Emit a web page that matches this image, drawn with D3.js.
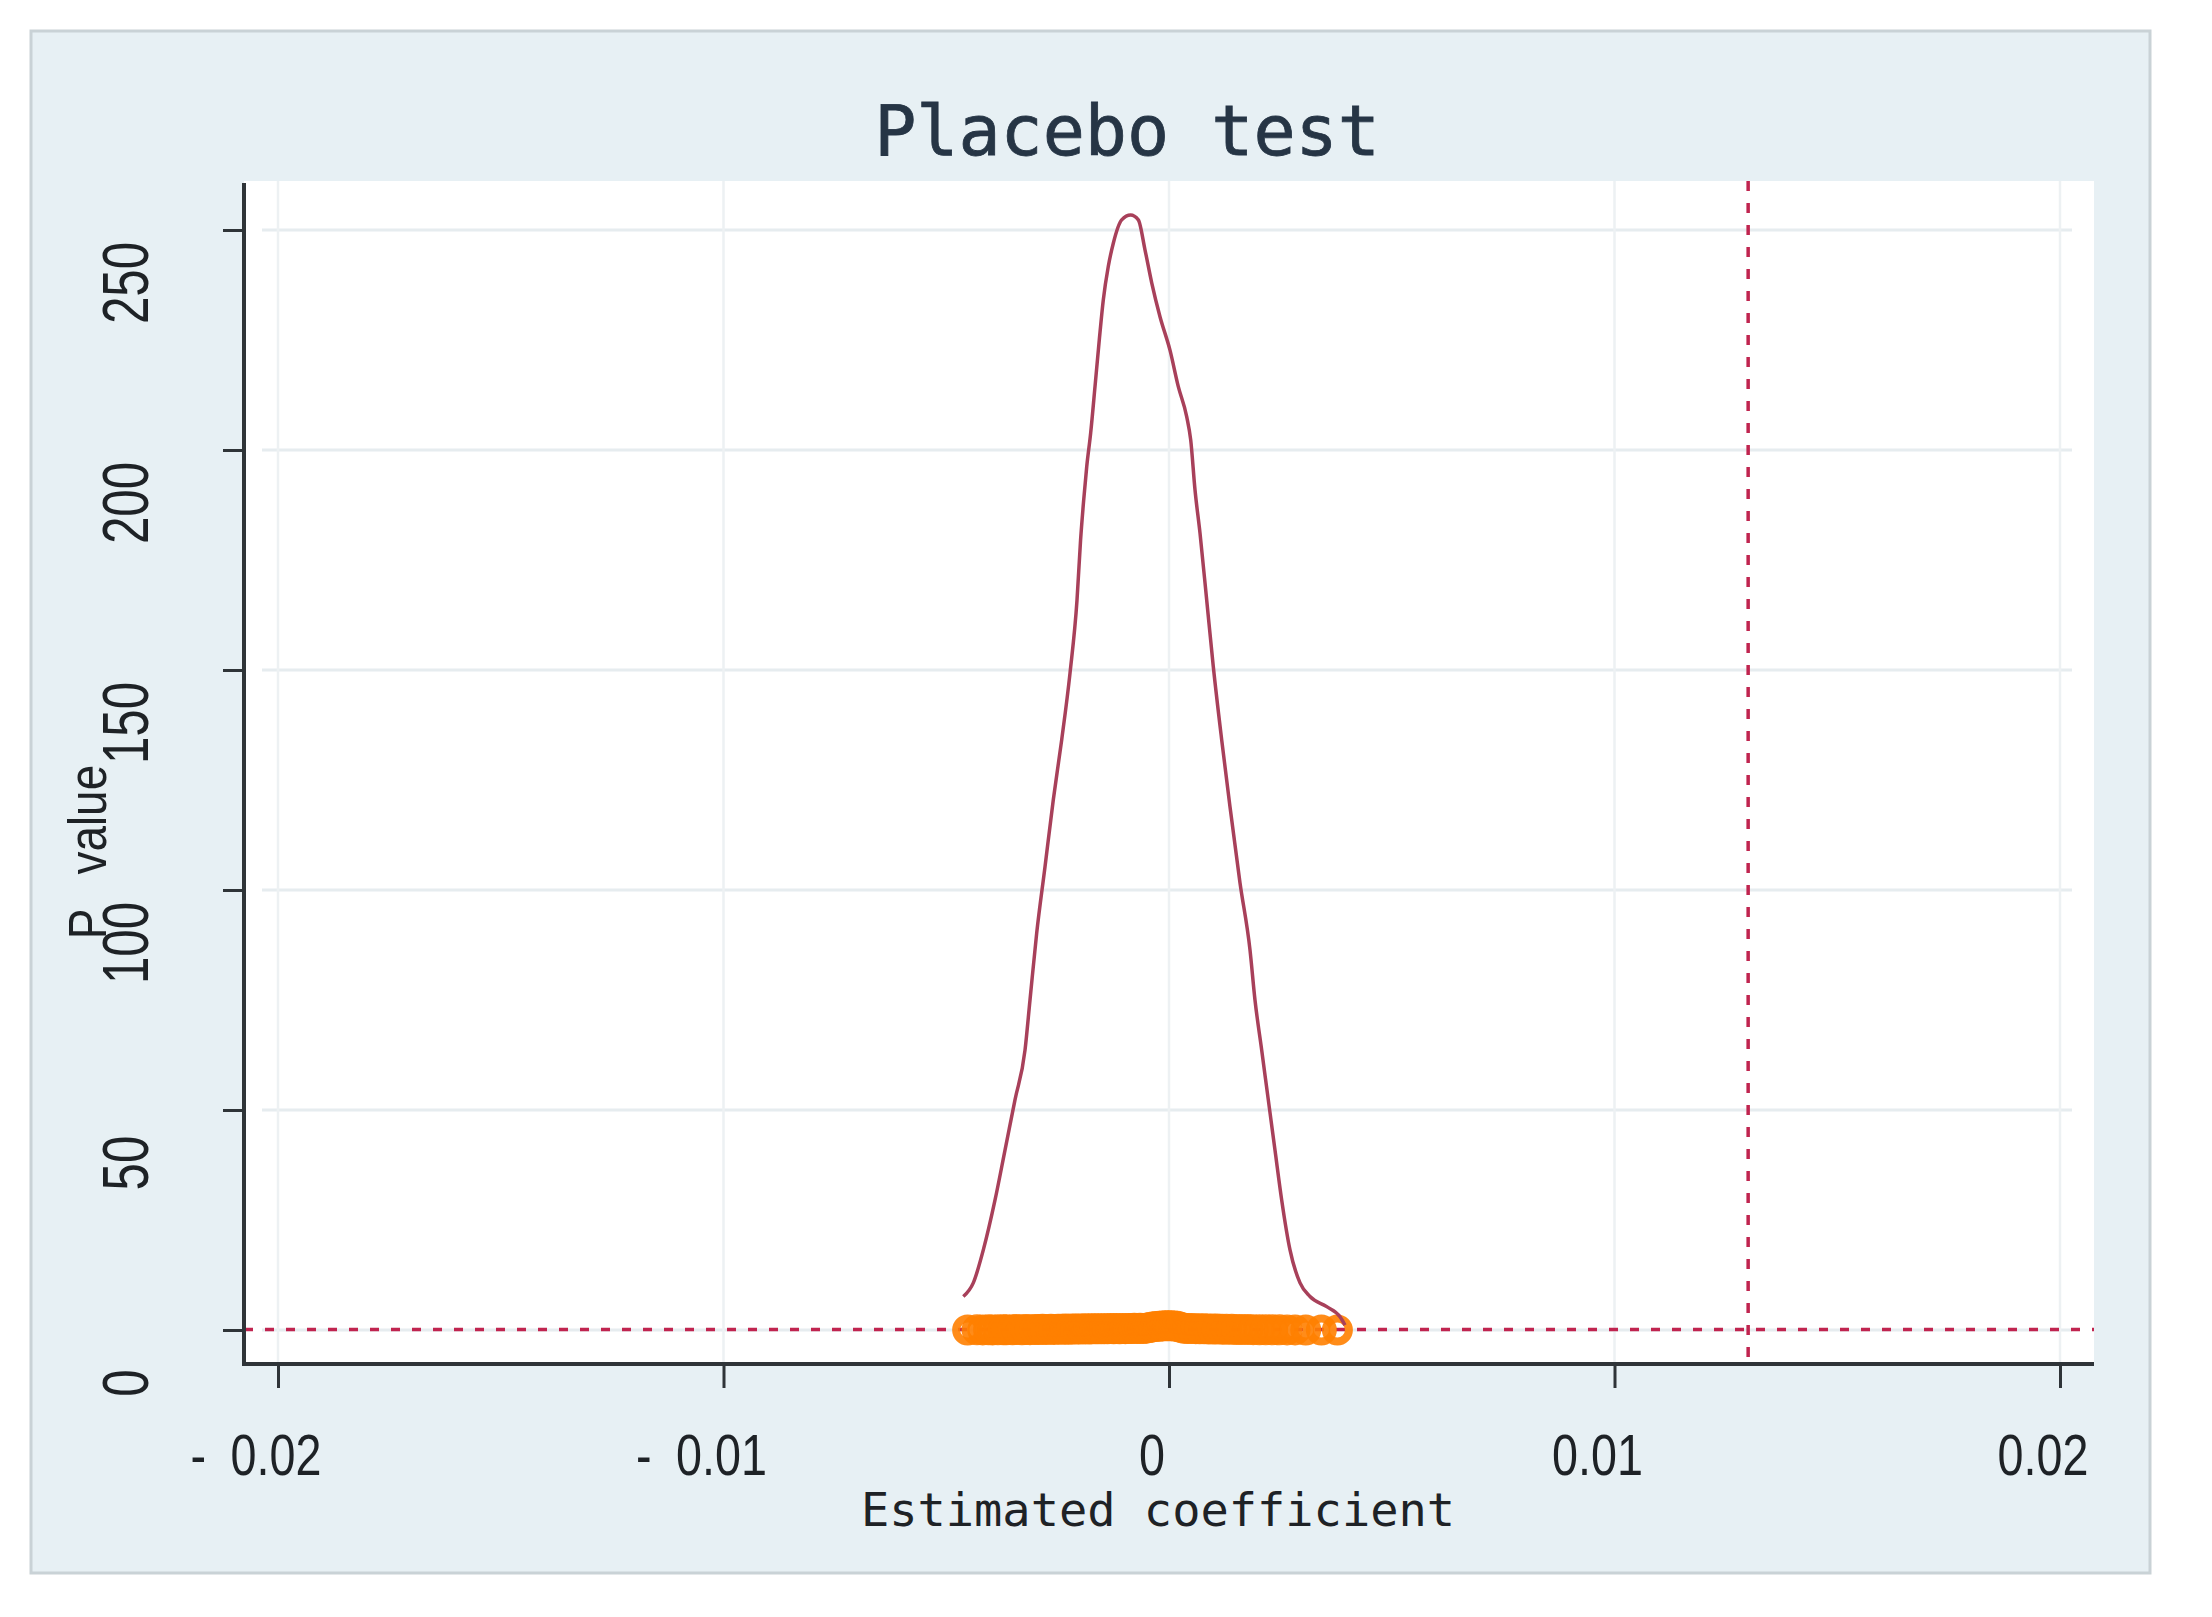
<!DOCTYPE html>
<html>
<head>
<meta charset="utf-8">
<script src="https://cdn.jsdelivr.net/npm/d3@7/dist/d3.min.js"></script>
<style>
  html, body { margin: 0; padding: 0; background: #ffffff; }
  svg { display: block; }
</style>
</head>
<body>
<script>
// ---------------- data ----------------
const chartTitle = "Placebo test";
const xAxisTitle = "Estimated coefficient";
const yAxisTitle = "P value";

const xTickValues = [-0.02, -0.01, 0, 0.01, 0.02];
const xTickLabels = ["- 0.02", "- 0.01", "0", "0.01", "0.02"];
const yTickValues = [0, 50, 100, 150, 200, 250];
const yTickLabels = ["0", "50", "100", "150", "200", "250"];

// kernel density of placebo coefficients (traced)
const densityX = [-0.004617,-0.004393,-0.004168,-0.003906,-0.003681,-0.003457,-0.003232,-0.00312,-0.00297,-0.002783,
  -0.002597,-0.002409,-0.002222,-0.002065,-0.001985,-0.001915,-0.001847,-0.001758,-0.001661,-0.001565,
  -0.001475,-0.001363,-0.00125,-0.001062,-0.00086,-0.000689,-0.000539,-0.000388,-0.000202,0.000022,
  0.000209,0.000397,0.000487,0.000584,0.000696,0.000846,0.000994,0.001183,0.001369,0.001594,
  0.001818,0.00193,0.002081,0.002229,0.002379,0.00253,0.002716,0.002941,0.003165,0.00354,
  0.003838,0.00395];
const densityY = [7.6,10.7,18.2,29.5,40.9,52.3,63.6,75,90.2,105.3,
  120.5,134.1,149.3,165.9,179.5,188.6,196.2,203.9,214.4,225,
  234.1,241.7,247,252.3,253.4,252.3,245.5,238,230.3,222.7,
  214.4,207.6,202.3,190.9,181.1,165.9,150.8,134.1,118.9,101.6,
  86.4,75,63.6,52.3,40.9,29.5,18.2,10.7,7.6,5.3,
  3.0,1.1];

// placebo estimates (coefficient) and their p values
const placeboCoefs = [-0.00452,-0.00431,-0.00418,-0.00405,-0.00396,-0.00384,-0.00372,-0.00365,-0.00351,-0.00342,
  -0.00330,-0.00321,-0.00312,-0.00301,-0.00293,-0.00284,-0.00276,-0.00265,-0.00258,-0.00249,
  -0.00241,-0.00233,-0.00226,-0.00218,-0.00210,-0.00203,-0.00195,-0.00188,-0.00180,-0.00174,
  -0.00166,-0.00159,-0.00151,-0.00145,-0.00138,-0.00131,-0.00124,-0.00118,-0.00111,-0.00104,
  -0.00098,-0.00091,-0.00085,-0.00078,-0.00071,-0.00065,-0.00058,-0.00051,-0.00044,-0.00037,
  -0.00030,-0.00022,-0.00015,-0.00008,-0.00002,0.00005,0.00012,0.00019,0.00026,0.00034,
  0.00042,0.00051,0.00060,0.00069,0.00079,0.00088,0.00098,0.00108,0.00119,0.00129,
  0.00141,0.00152,0.00164,0.00177,0.00189,0.00203,0.00217,0.00232,0.00248,0.00265,
  0.00283,0.00307,0.00342,0.00378];
const placeboPvals = [0.01,0.03,0.02,0.05,0.02,0.04,0.07,0.03,0.06,0.09,
  0.05,0.11,0.08,0.13,0.10,0.15,0.12,0.17,0.14,0.19,
  0.16,0.21,0.18,0.23,0.20,0.25,0.22,0.27,0.24,0.29,
  0.26,0.30,0.28,0.31,0.27,0.32,0.29,0.33,0.30,0.34,
  0.31,0.35,0.33,0.37,0.34,0.39,0.36,0.42,0.58,0.71,
  0.80,0.87,0.93,0.96,0.98,0.94,0.89,0.83,0.62,0.41,
  0.36,0.33,0.31,0.29,0.27,0.25,0.23,0.21,0.19,0.17,
  0.15,0.13,0.11,0.09,0.08,0.06,0.05,0.04,0.03,0.02,
  0.02,0.01,0.01,0.00];

const trueCoef = [0.013];   // vertical reference line
const pThreshold = [0.1];   // horizontal reference line

// ---------------- layout ----------------
const W = 2212, H = 1617;
const frame = { x0: 31, y0: 31, x1: 2150, y1: 1573 };
const plot = { left: 244, right: 2094, top: 181, bottom: 1364 };

const svg = d3.select("body").append("svg")
  .attr("width", W).attr("height", H);

svg.append("rect").attr("x", 0).attr("y", 0).attr("width", W).attr("height", H).attr("fill", "#ffffff");
svg.append("rect")
  .attr("x", frame.x0).attr("y", frame.y0)
  .attr("width", frame.x1 - frame.x0).attr("height", frame.y1 - frame.y0)
  .attr("fill", "#e7f0f4").attr("stroke", "#c9d2d6").attr("stroke-width", 3);

// plot region
svg.append("rect")
  .attr("x", plot.left).attr("y", plot.top)
  .attr("width", plot.right - plot.left).attr("height", plot.bottom - plot.top)
  .attr("fill", "#ffffff");

const x = d3.scaleLinear().domain([-0.02, 0.02]).range([278, 2060]);
const y = d3.scaleLinear().domain([0, 250]).range([1330, 230]);

const sans = "'Liberation Sans', Arial, sans-serif";
const mono = "'DejaVu Sans Mono', 'Liberation Mono', monospace";

// grid lines
const grid = svg.append("g");
grid.selectAll("line.h").data(yTickValues).join("line")
  .attr("x1", plot.left + 18).attr("x2", plot.right - 22)
  .attr("y1", d => y(d)).attr("y2", d => y(d))
  .attr("stroke", "#e6ecef").attr("stroke-width", 3);
grid.selectAll("line.v").data(xTickValues).join("line")
  .attr("x1", d => x(d)).attr("x2", d => x(d))
  .attr("y1", plot.top).attr("y2", plot.bottom)
  .attr("stroke", "#edf1f3").attr("stroke-width", 2.5);

// reference lines
const refColor = "#c0244f";
svg.append("g").selectAll("line").data(pThreshold).join("line")
  .attr("x1", plot.left).attr("x2", plot.right)
  .attr("y1", d => y(d)).attr("y2", d => y(d))
  .attr("stroke", refColor).attr("stroke-width", 3.5)
  .attr("stroke-dasharray", "9,12");
svg.append("g").selectAll("line").data(trueCoef).join("line")
  .attr("x1", d => x(d)).attr("x2", d => x(d))
  .attr("y1", plot.top).attr("y2", plot.bottom)
  .attr("stroke", refColor).attr("stroke-width", 3.5)
  .attr("stroke-dasharray", "10,12");

// scatter of p values
const pts = d3.zip(placeboCoefs, placeboPvals);
svg.append("g").selectAll("circle").data(pts).join("circle")
  .attr("cx", d => x(d[0])).attr("cy", d => y(d[1]))
  .attr("r", 11.5)
  .attr("fill", "none")
  .attr("stroke", "#ff8000").attr("stroke-width", 8)
  .attr("stroke-opacity", 0.9);

// density curve
const dens = d3.zip(densityX, densityY);
const line = d3.line().x(d => x(d[0])).y(d => y(d[1])).curve(d3.curveMonotoneX);
svg.append("path").datum(dens)
  .attr("d", line)
  .attr("fill", "none")
  .attr("stroke", "#a8405a").attr("stroke-width", 3.5)
  .attr("stroke-linejoin", "round");

// axes
const axisColor = "#2f3438";
const xAxis = d3.axisBottom(x).tickValues(xTickValues).tickSize(24).tickSizeOuter(0).tickFormat("");
const gx = svg.append("g").attr("transform", `translate(0,${plot.bottom})`).call(xAxis);
gx.select(".domain").remove();
gx.selectAll(".tick line").attr("stroke", axisColor).attr("stroke-width", 3);

const yAxis = d3.axisLeft(y).tickValues(yTickValues).tickSize(21).tickSizeOuter(0).tickFormat("");
const gy = svg.append("g").attr("transform", `translate(${plot.left},0)`).call(yAxis);
gy.select(".domain").remove();
gy.selectAll(".tick line").attr("stroke", axisColor).attr("stroke-width", 3);

svg.append("line")
  .attr("x1", plot.left).attr("x2", plot.left)
  .attr("y1", 183).attr("y2", plot.bottom + 2)
  .attr("stroke", axisColor).attr("stroke-width", 4);
svg.append("line")
  .attr("x1", plot.left - 2).attr("x2", plot.right)
  .attr("y1", plot.bottom).attr("y2", plot.bottom)
  .attr("stroke", axisColor).attr("stroke-width", 4);

// tick labels (condensed via horizontal scaling)
svg.append("g").selectAll("text").data(xTickValues).join("text")
  .attr("transform", d => `translate(${x(d) - (d < 0 ? 22 : 17)},1475) scale(0.82,1)`)
  .attr("text-anchor", "middle")
  .attr("font-family", sans).attr("font-size", 57)
  .attr("word-spacing", 14)
  .attr("fill", "#1e2226")
  .text((d, i) => xTickLabels[i]);

svg.append("g").selectAll("text").data(yTickValues).join("text")
  .attr("transform", d => `translate(126,${y(d) + 53}) rotate(-90) scale(0.77,1)`)
  .attr("text-anchor", "middle").attr("dominant-baseline", "central")
  .attr("font-family", sans).attr("font-size", 64)
  .attr("fill", "#1e2226")
  .text((d, i) => yTickLabels[i]);

// titles
svg.append("text")
  .attr("x", 1127).attr("y", 155)
  .attr("text-anchor", "middle")
  .attr("font-family", mono).attr("font-size", 70)
  .attr("fill", "#263545")
  .attr("stroke", "#263545").attr("stroke-width", 0.8)
  .text(chartTitle);

svg.append("text")
  .attr("x", 1158).attr("y", 1526)
  .attr("text-anchor", "middle")
  .attr("font-family", mono).attr("font-size", 47)
  .attr("fill", "#1e2226")
  .text(xAxisTitle);

svg.append("text")
  .attr("transform", "translate(106,852) rotate(-90) scale(0.85,1)")
  .attr("text-anchor", "middle")
  .attr("font-family", sans).attr("font-size", 54)
  .attr("word-spacing", 26)
  .attr("fill", "#1e2226")
  .text(yAxisTitle);
</script>
</body>
</html>
